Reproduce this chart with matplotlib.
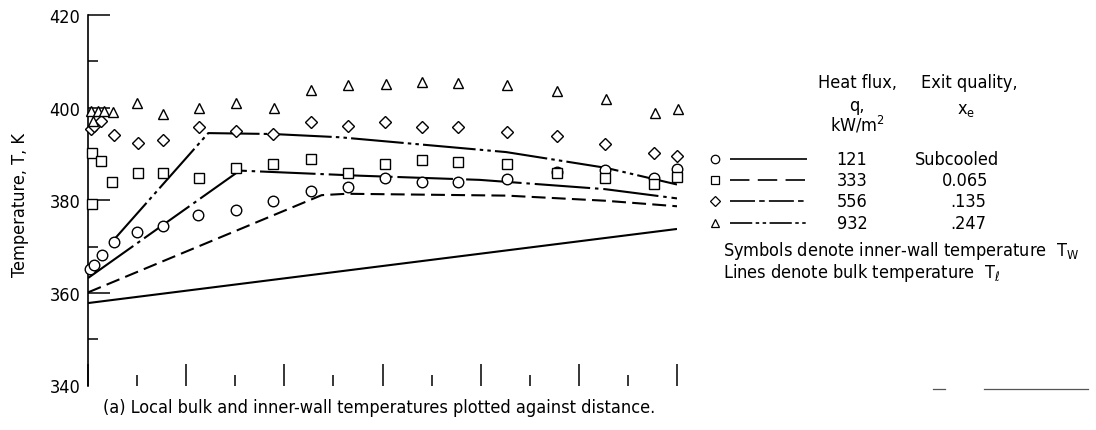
import matplotlib
matplotlib.use("Agg")
import matplotlib.pyplot as plt
from matplotlib import font_manager

names = {f.name for f in font_manager.fontManager.ttflist}
if 'Liberation Sans Narrow' in names:
    FAM, STRETCH = 'Liberation Sans Narrow', 'normal'
else:
    FAM, STRETCH = 'DejaVu Sans', 'condensed'
plt.rcParams['font.family'] = [FAM, 'DejaVu Sans']
plt.rcParams['font.stretch'] = STRETCH
plt.rcParams['mathtext.fontset'] = 'custom'
plt.rcParams['mathtext.rm'] = FAM
plt.rcParams['mathtext.it'] = FAM + ':italic'
plt.rcParams['lines.scale_dashes'] = False

# ---------------- data ----------------
heat_flux = ['121', '333', '556', '932']
exit_quality = ['Subcooled', '0.065', '.135', '.247']

# inner-wall temperatures (symbols)
x_121 = [0.05, 0.12, 0.28, 0.52, 0.99, 1.52, 2.25, 3.01, 3.77, 4.54, 5.29, 6.05, 6.80, 7.54, 8.53, 9.55, 10.53, 11.53, 12.0]
tw_121 = [365.2, 366.1, 368.2, 370.9, 373.1, 374.5, 376.9, 377.8, 379.9, 381.9, 382.8, 384.9, 383.9, 383.9, 384.6, 386.0, 386.6, 384.9, 386.7]

x_333 = [0.09, 0.09, 0.27, 0.49, 1.01, 1.52, 2.26, 3.01, 3.77, 4.54, 5.29, 6.05, 6.80, 7.54, 8.54, 9.55, 10.54, 11.53, 12.01]
tw_333 = [390.1, 379.2, 388.5, 383.9, 385.9, 385.9, 384.8, 386.9, 387.8, 388.8, 385.8, 387.8, 388.7, 388.2, 387.8, 385.8, 384.9, 383.5, 385.1]

x_556 = [0.06, 0.12, 0.27, 0.52, 1.01, 1.52, 2.26, 3.01, 3.77, 4.54, 5.29, 6.05, 6.80, 7.54, 8.54, 9.55, 10.54, 11.53, 12.01]
tw_556 = [395.3, 396.0, 397.1, 394.0, 392.4, 393.0, 395.9, 394.9, 394.3, 396.8, 396.1, 396.8, 395.8, 395.8, 394.7, 393.8, 392.2, 390.2, 389.6]

x_932 = [0.06, 0.10, 0.20, 0.33, 0.51, 1.00, 1.53, 2.26, 3.01, 3.79, 4.54, 5.30, 6.07, 6.80, 7.54, 8.53, 9.55, 10.55, 11.55, 12.02]
tw_932 = [399.2, 397.1, 399.2, 399.2, 399.0, 401.0, 398.6, 399.9, 400.9, 400.0, 403.8, 404.9, 405.1, 405.6, 405.4, 404.9, 403.5, 401.8, 398.8, 399.8]

# bulk temperatures (lines)
xl_121 = [0.0, 12.0]
tl_121 = [357.8, 373.8]
xl_333 = [0.0, 4.76, 5.27, 8.53, 10.53, 12.0]
tl_333 = [360.1, 381.1, 381.4, 381.0, 379.9, 378.7]
xl_556 = [0.0, 3.09, 5.54, 7.98, 10.53, 12.0]
tl_556 = [363.2, 386.4, 385.3, 384.4, 382.4, 380.4]
xl_932 = [0.48, 2.45, 3.77, 5.13, 8.52, 10.55, 12.0]
tl_932 = [370.9, 394.5, 394.3, 393.6, 390.4, 387.0, 383.4]

y_ticks = [340, 360, 380, 400, 420]

# ---------------- styles ----------------
W, H = 1096, 431
FS = 13
LW = 1.5
styles = {
    '121': dict(marker='o', ms=7.6, ls='-', dashes=None),
    '333': dict(marker='s', ms=7.0, ls='--', dashes=(10, 4.5)),
    '556': dict(marker='D', ms=6.3, ls='-.', dashes=(40, 3.5, 2.5, 3.5)),
    '932': dict(marker='^', ms=7.8, ls=':', dashes=(38, 3, 2.5, 3, 2.5, 3)),
}
series = {
    '121': (x_121, tw_121, xl_121, tl_121),
    '333': (x_333, tw_333, xl_333, tl_333),
    '556': (x_556, tw_556, xl_556, tl_556),
    '932': (x_932, tw_932, xl_932, tl_932),
}

fig = plt.figure(figsize=(W / 100, H / 100), dpi=100)
ax = fig.add_axes([88 / W, 44.5 / H, 589 / W, 370.5 / H])

for key in heat_flux:
    xs, ts, xl, tl = series[key]
    st = styles[key]
    ln, = ax.plot(xl, tl, color='black', lw=LW, solid_capstyle='butt', zorder=2)
    if st['dashes'] is not None:
        ln.set_dashes(st['dashes'])
        ln.set_dash_capstyle('butt')
    ax.plot(xs, ts, ls='none', marker=st['marker'], ms=st['ms'], mfc='white',
            mec='black', mew=1.0, clip_on=False, zorder=3)

ax.set_xlim(0, 12)
ax.set_ylim(340, 420)
ax.set_xticks(range(0, 13, 2))
ax.set_xticks(range(1, 12, 2), minor=True)
ax.set_yticks(y_ticks)
ax.set_yticks([350, 370, 390, 410], minor=True)
ax.set_yticklabels([str(v) for v in y_ticks])
ax.tick_params(axis='x', which='major', direction='in', length=15.5, width=1.1, labelbottom=False)
ax.tick_params(axis='x', which='minor', direction='in', length=8, width=1.1)
ax.tick_params(axis='y', which='major', direction='in', length=16, width=1.1, labelsize=FS, pad=5.5)
ax.tick_params(axis='y', which='minor', direction='in', length=7.5, width=1.1)
ax.yaxis.get_major_ticks()[0].tick1line.set_visible(False)
for s in ['top', 'right', 'bottom']:
    ax.spines[s].set_visible(False)
ax.spines['left'].set_linewidth(1.2)
ax.patch.set_visible(False)

def fx(px):
    return px / W

def fy(py):
    return 1 - py / H

fig.text(fx(20), fy(205), 'Temperature, T, K', rotation=90, ha='center', va='center', fontsize=FS)
fig.text(fx(103), fy(408), '(a) Local bulk and inner-wall temperatures plotted against distance.',
         ha='left', va='center', fontsize=FS)

# legend (overlay axes in pixel coordinates)
lax = fig.add_axes([0, 0, 1, 1])
lax.set_xlim(0, W)
lax.set_ylim(H, 0)
lax.axis('off')

fig.text(fx(857), fy(83), 'Heat flux,', ha='center', va='center', fontsize=FS)
fig.text(fx(857), fy(106), 'q,', ha='center', va='center', fontsize=FS)
fig.text(fx(857), fy(125), r'kW/m$^2$', ha='center', va='center', fontsize=FS)
fig.text(fx(969), fy(83), 'Exit quality,', ha='center', va='center', fontsize=FS)
fig.text(fx(966), fy(110), r'x$_\mathrm{e}$', ha='center', va='center', fontsize=FS)

row_y = [160, 181, 202, 224]
eq_x = [957, 942, 950, 950]
eq_ha = ['center', 'left', 'left', 'left']
for i, key in enumerate(heat_flux):
    st = styles[key]
    y = row_y[i]
    lax.plot([715], [y], ls='none', marker=st['marker'], ms=st['ms'] * 0.8, mfc='white',
             mec='black', mew=0.9)
    ln, = lax.plot([730, 807], [y, y], color='black', lw=1.2, solid_capstyle='butt')
    if st['dashes'] is not None:
        if key == '333':
            ln.set_dashes((14, 6))
        elif key == '556':
            ln.set_dashes((18, 3, 4, 3))
        else:
            ln.set_dashes((16, 2.5, 2.5, 2.5, 2.5, 2.5))
    fig.text(fx(852), fy(y), key, ha='center', va='center', fontsize=FS)
    fig.text(fx(eq_x[i]), fy(y), exit_quality[i], ha=eq_ha[i], va='center', fontsize=FS)

fig.text(fx(723), fy(251), r'Symbols denote inner-wall temperature  T$_\mathrm{W}$',
         ha='left', va='center', fontsize=FS)
fig.text(fx(723), fy(273), r'Lines denote bulk temperature  T$_\ell$',
         ha='left', va='center', fontsize=FS)

# stray rule marks at lower right of the original figure
lax.plot([933, 945], [390, 390], color='#555555', lw=0.9)
lax.plot([984, 1088], [390, 390], color='#555555', lw=0.9)

fig.savefig('out.png', dpi=100)
